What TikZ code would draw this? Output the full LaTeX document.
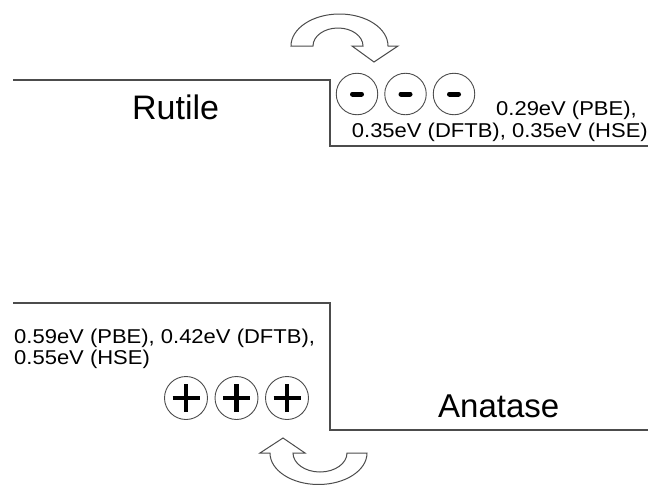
\documentclass[tikz,border=0pt]{standalone}
\usepackage{fontspec}
\setmainfont{Liberation Sans}
\newfontfamily\valfont[FakeStretch=1.1]{Liberation Sans}
\usetikzlibrary{positioning}

\begin{document}
\begin{tikzpicture}[
    x=1pt, y=-1pt,
    level/.style={draw=black!70, line width=1.2pt},
    charge/.style={circle, draw=black!70, line width=0.9pt, inner sep=0pt, outer sep=0pt},
    elec/.style={charge, minimum size=41.5pt, path picture={\draw[draw=black, line width=5pt, line cap=round] ([xshift=-4.5pt]path picture bounding box.center) -- ([xshift=4.5pt]path picture bounding box.center);}},
    hole/.style={charge, minimum size=43pt, path picture={\draw[draw=black, line width=4.5pt] ([xshift=-13.5pt]path picture bounding box.center) -- ([xshift=13.5pt]path picture bounding box.center) ([yshift=-14pt]path picture bounding box.center) -- ([yshift=14pt]path picture bounding box.center);}},
    phase/.style={inner sep=0pt, font=\fontsize{34}{40}\selectfont},
    value/.style={inner sep=0pt, font=\valfont\fontsize{20}{24}\selectfont},
    curl/.style={draw=black!70, line width=1pt, fill=white}
]
\useasboundingbox (0,0) rectangle (649,485);

% Rutile band edge
\coordinate (rL) at (13,80);
\coordinate (rT) at (330,80);
\coordinate (rB) at (330,146);
\coordinate (rR) at (648,146);
\draw[level] (rL) -- (rT) -- (rB) -- (rR);

% Anatase band edge
\coordinate (aL) at (13,303);
\coordinate (aT) at (330,303);
\coordinate (aB) at (330,430);
\coordinate (aR) at (648,430);
\draw[level] (aL) -- (aT) -- (aB) -- (aR);

% Phase labels
\node[phase, anchor=base west] (rutile) at (132,119) {Rutile};
\node[phase, anchor=base west, font=\fontsize{33}{40}\selectfont] (anatase) at (438,417) {Anatase};

% Electrons
\node[elec] (e1) at (357,94) {};
\node[elec, right=7pt of e1] (e2) {};
\node[elec, right=7pt of e2] (e3) {};

% Holes
\node[hole] (h1) at (186,398) {};
\node[hole, right=7.5pt of h1] (h2) {};
\node[hole, right=7.5pt of h2] (h3) {};

% Offsets
\node[value, anchor=base east] (rval1) at (637,115.5) {0.29eV (PBE),};
\node[value, anchor=base east] (rval2) at (648,137.5) {0.35eV (DFTB), 0.35eV (HSE)};
\node[value, anchor=base west] (aval1) at (14,343) {0.59eV (PBE), 0.42eV (DFTB),};
\node[value, anchor=base west] (aval2) at (14,364.5) {0.55eV (HSE)};

% Transfer arrows
\draw[curl] (291,46) arc[start angle=180, end angle=360, x radius=48.5, y radius=32]
    -- (398,46) -- (374,62) -- (352,46) -- (363,46)
    arc[start angle=360, end angle=180, x radius=25, y radius=18] -- cycle;
\draw[curl] (270,453) arc[start angle=180, end angle=0, x radius=48.5, y radius=31.5]
    -- (347,453) arc[start angle=0, end angle=180, x radius=27, y radius=19]
    -- (305,453) -- (283,438) -- (260,453) -- cycle;

\end{tikzpicture}
\end{document}
